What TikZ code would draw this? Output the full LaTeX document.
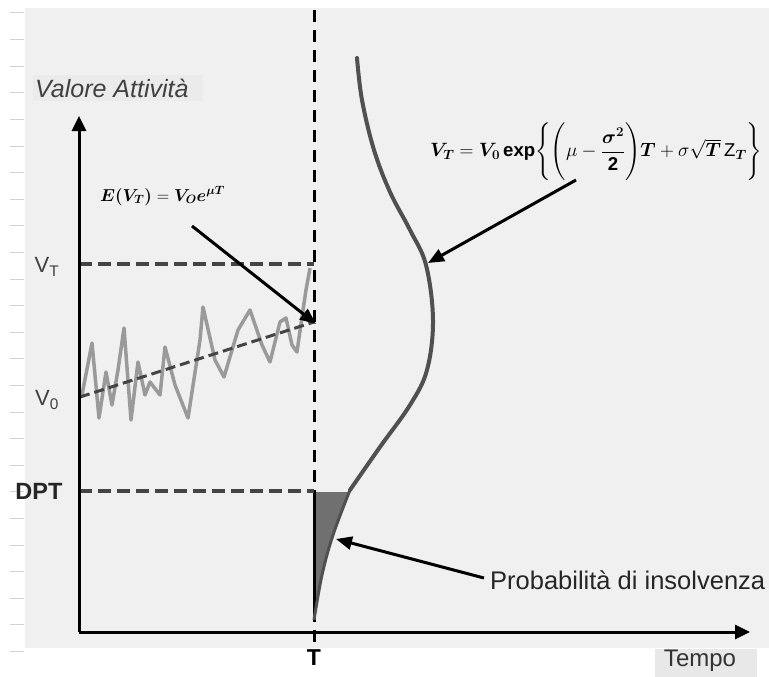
\documentclass[tikz,border=0pt]{standalone}
\usepackage{amsmath}
\usepackage{bm}
\usepackage{graphicx}
\usepackage{fontspec}
\setmainfont{Liberation Sans}
\usetikzlibrary{arrows.meta}
\definecolor{bg}{HTML}{F0F0F0}
\definecolor{noise}{HTML}{9A9A9A}
\definecolor{curvec}{HTML}{505050}
\definecolor{dashc}{HTML}{444444}
\definecolor{tailc}{HTML}{707070}
\tikzset{
  axis/.style={line width=3pt, -{Triangle[length=15pt,width=14pt]}},
  pointer/.style={line width=3pt, -{Triangle[length=16pt,width=13pt]}},
  hdash/.style={dashc, line width=4pt, dash pattern=on 13pt off 6pt},
  vdash/.style={black, line width=3pt, dash pattern=on 12pt off 8pt},
  lbl/.style={font=\fontsize{22}{24}\selectfont, text=black!75, inner sep=1pt},
}
\begin{document}
\begin{tikzpicture}[x=1pt,y=-1pt]
\useasboundingbox (0,0) rectangle (769,677);
\fill[white] (0,0) rectangle (769,677);
\fill[bg] (25,8) rectangle (769,648);
% faint ticks on the left edge
\foreach \k in {0,...,24} {
  \draw[black!18, line width=1pt] (10,{13+26.6*\k}) -- (24,{13+26.6*\k});
}
% coordinates
\coordinate (O) at (79,632);
\coordinate (Ytop) at (79,116);
\coordinate (Xend) at (750,632);
\coordinate (Ttop) at (314,10);
\coordinate (Tbot) at (314,645);
\coordinate (VT0) at (79,264);
\coordinate (VT1) at (314,264);
\coordinate (DP0) at (79,491);
\coordinate (DP1) at (314,491);
\coordinate (V00) at (80,397);
\coordinate (V01) at (314,322);

% label backgrounds
\node[fill=black!8, inner sep=0pt, minimum width=170pt, minimum height=26pt, anchor=west] (ybg) at (33,88) {};
\node[fill=black!9, inner sep=0pt, minimum width=102pt, minimum height=28pt, anchor=west] (xbg) at (655,663) {};

% vertical dashed line at T
\draw[vdash] (Ttop) -- (Tbot);

% shaded tail
\fill[tailc] (314,492) -- (351,492) -- plot[smooth, tension=0.6] coordinates {(351,490) (333,535) (322,575) (314,620)} -- cycle;
\draw[black, line width=3pt] (314,492) -- (314,620);

% density curve
\draw[curvec, line width=4pt, line cap=round] plot[smooth, tension=0.6] coordinates {(357,58) (362,100) (374,150) (390,192) (410,230) (426,265) (433,320) (427,370) (410,405) (380,447) (350,490)};
\draw[curvec, line width=3pt] plot[smooth, tension=0.6] coordinates {(350,490) (333,535) (322,575) (314,620)};

% horizontal dashed levels
\draw[hdash] (VT0) -- (VT1);
\draw[hdash] (DP0) -- (DP1);

% noisy path
\draw[noise, line width=3.5pt, line join=round] plot coordinates {(82,395) (92,343) (99,418) (106,372) (112,405) (118,370) (124,328) (131,420) (138,362) (145,395) (150,382) (160,395) (165,347) (175,385) (188,418) (200,340) (203,307) (215,360) (224,377) (238,330) (250,310) (262,345) (270,362) (280,322) (286,318) (292,345) (297,352) (303,310) (306,290) (310,268)};

% trend line
\draw[dashc, line width=3pt, dash pattern=on 10pt off 5pt] (V00) -- (V01);

% axes
\draw[axis] (O) -- (Ytop);
\draw[axis] (O) -- (Xend);

% labels
\node[font=\fontsize{25}{27}\selectfont\itshape, text=black!75, anchor=west, inner sep=0pt] (ylab) at (35,88) {Valore Attività};
\node[font=\fontsize{24}{26}\selectfont, text=black!80] (xlab) at (700,661) {Tempo};
\node[font=\fontsize{23}{25}\selectfont\bfseries, text=black] (T) at (314,658) {T};
\node[lbl] (vtl) at (47,267) {V\textsubscript{T}};
\node[lbl] (v0l) at (47,400) {V\textsubscript{0}};
\node[font=\fontsize{23.5}{25}\selectfont\bfseries, text=black!85] (dpt) at (39,491) {DPT};

\node[font=\fontsize{25.5}{27}\selectfont, text=black!85, anchor=west, inner sep=0pt] (prob) at (490,580) {Probabilità di insolvenza};

\node[font=\fontsize{18.5}{20}\selectfont, anchor=west, inner sep=0pt] (ev) at (100,196) {$\bm{E(V_T)} = \bm{V_O e^{\mu T}}$};

\node[font=\fontsize{20}{22}\selectfont, anchor=west, inner sep=0pt] (form) at (430,152) {\resizebox{332pt}{!}{$\bm{V_T} = \bm{V_0}\,\mathbf{exp}\Biggl\{\Biggl(\mu - \dfrac{\bm{\sigma^2}}{\mathbf{2}}\Biggr)\bm{T} + \sigma\sqrt{\bm{T}}\,\mathrm{Z}_{\bm{T}}\Biggr\}$}};

% pointers
\coordinate (evtip) at (316,324);
\coordinate (evs) at (192,226);
\draw[pointer] (evs) -- (evtip);
\coordinate (fs) at (576,180);
\coordinate (ftip) at (428,263);
\draw[pointer] (fs) -- (ftip);
\coordinate (ps) at (484,578);
\coordinate (ptip) at (336,539);
\draw[pointer] (ps) -- (ptip);
\end{tikzpicture}
\end{document}
